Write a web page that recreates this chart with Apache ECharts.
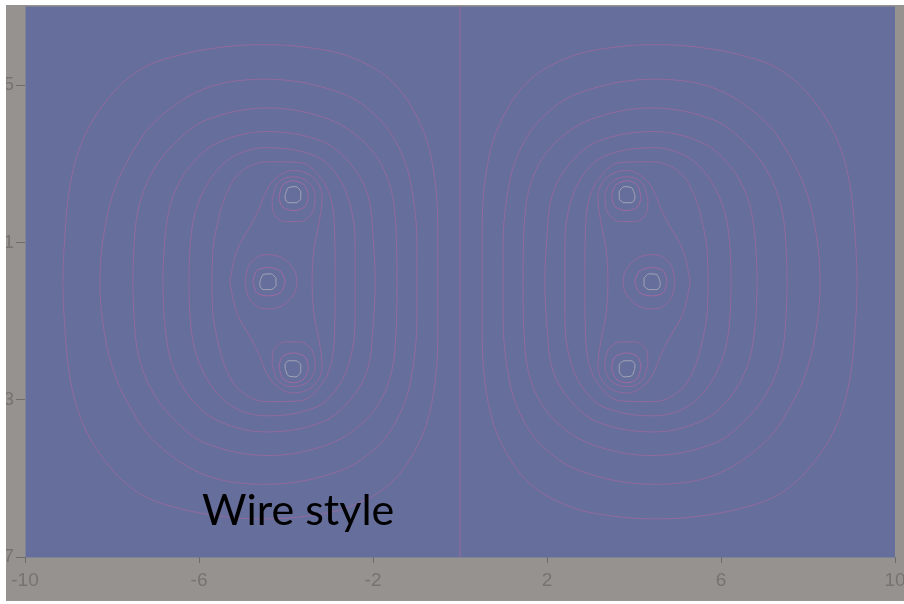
<!DOCTYPE html>
<html>
<head>
<meta charset="utf-8">
<script src="https://cdn.jsdelivr.net/npm/echarts@6/dist/echarts.min.js"></script>
<style>
  html, body { margin: 0; padding: 0; background: #ffffff; width: 904px; height: 604px; overflow: hidden; }
  #frame { position: absolute; left: 6px; top: 5px; width: 898px; height: 596px; background: #96928f; overflow: hidden; }
  #chart { width: 898px; height: 596px; }
</style>
</head>
<body>
<div id="frame"><div id="chart"></div></div>
<script>
// Axis ranges and tick positions
const xRange = [-10, 10];
const yRange = [-7, 7];
const xTicks = [-10, -6, -2, 2, 6, 10];
const yTicks = [-7, -3, 1, 5];

// Nested iso-lines around the left group of sources (x, y in axis units)
const contour1 = [[-9.13,0],[-9.10,0.89],[-8.97,2.42],[-8.67,3.61],[-8.11,4.63],[-7.36,5.39],[-6.44,5.77],[-5.36,5.98],[-4.48,6.03],[-3.45,5.95],[-2.53,5.72],[-1.61,5.14],[-0.99,4.20],[-0.64,3.03],[-0.51,1.32],[-0.51,0],
  [-0.51,-1.32],[-0.64,-3.03],[-0.99,-4.20],[-1.61,-5.14],[-2.53,-5.72],[-3.45,-5.95],[-4.48,-6.03],[-5.36,-5.98],[-6.44,-5.77],[-7.36,-5.39],[-8.11,-4.63],[-8.67,-3.61],[-8.97,-2.42],[-9.10,-0.89],[-9.13,0]];
const contour2 = [[-8.28,0],[-8.23,0.89],[-8.00,2.16],[-7.59,3.18],[-6.97,4.12],[-5.82,4.93],[-4.45,5.15],[-2.76,4.81],[-1.84,4.12],[-1.31,3.18],[-1.08,2.16],[-0.99,0.89],[-0.99,0],
  [-0.99,-0.89],[-1.08,-2.16],[-1.31,-3.18],[-1.84,-4.12],[-2.76,-4.81],[-4.45,-5.15],[-5.82,-4.93],[-6.97,-4.12],[-7.59,-3.18],[-8.00,-2.16],[-8.23,-0.89],[-8.28,0]];
const contour3 = [[-7.52,0],[-7.43,1.65],[-7.13,2.67],[-6.60,3.48],[-5.82,4.12],[-4.40,4.42],[-2.99,4.12],[-2.14,3.48],[-1.68,2.67],[-1.49,1.65],[-1.45,0],
  [-1.49,-1.65],[-1.68,-2.67],[-2.14,-3.48],[-2.99,-4.12],[-4.40,-4.42],[-5.82,-4.12],[-6.60,-3.48],[-7.13,-2.67],[-7.43,-1.65],[-7.52,0]];
const contour4 = [[-6.83,0],[-6.78,1.14],[-6.60,2.16],[-6.14,3.03],[-5.52,3.56],[-4.45,3.82],[-3.15,3.56],[-2.46,2.92],[-2.11,2.16],[-2.00,1.14],[-1.95,0],
  [-2.00,-1.14],[-2.11,-2.16],[-2.46,-2.92],[-3.15,-3.56],[-4.45,-3.82],[-5.52,-3.56],[-6.14,-3.03],[-6.60,-2.16],[-6.78,-1.14],[-6.83,0]];
const contour5 = [[-6.23,0],[-6.21,0.81],[-6.09,1.75],[-5.75,2.59],[-5.22,3.18],[-4.45,3.41],[-3.29,3.18],[-2.76,2.59],[-2.48,1.75],[-2.41,0.81],[-2.41,0],
  [-2.41,-0.81],[-2.48,-1.75],[-2.76,-2.59],[-3.29,-3.18],[-4.45,-3.41],[-5.22,-3.18],[-5.75,-2.59],[-6.09,-1.75],[-6.21,-0.81],[-6.23,0]];
const contour6 = [[-5.70,0],[-5.68,0.81],[-5.58,1.45],[-5.40,2.16],[-5.06,2.77],[-4.45,3.05],[-3.68,3.03],[-3.17,2.59],[-2.94,1.96],[-2.88,1.10],[-2.87,0],
  [-2.88,-1.10],[-2.94,-1.96],[-3.17,-2.59],[-3.68,-3.03],[-4.45,-3.05],[-5.06,-2.77],[-5.40,-2.16],[-5.58,-1.45],[-5.68,-0.81],[-5.70,0]];
const contour7 = [[-5.29,0],[-5.13,0.79],[-4.83,1.40],[-4.64,1.80],[-4.48,2.24],[-4.25,2.62],[-3.84,2.83],[-3.38,2.66],[-3.17,2.16],[-3.24,1.50],[-3.36,0.81],[-3.40,0],
  [-3.36,-0.81],[-3.24,-1.50],[-3.17,-2.16],[-3.38,-2.66],[-3.84,-2.83],[-4.25,-2.62],[-4.48,-2.24],[-4.64,-1.80],[-4.83,-1.40],[-5.13,-0.79],[-5.29,0]];

// Small rings around the three sources (upper, middle, lower)
const ringUpper1 = [[-4.02,2.21],[-3.95,2.39],[-3.77,2.42],[-3.66,2.29],[-3.66,2.11],[-3.77,2.01],[-3.95,2.01],[-4.02,2.11],[-4.02,2.21]];
const ringUpper2 = [[-4.16,2.16],[-4.07,2.47],[-3.84,2.57],[-3.59,2.47],[-3.49,2.19],[-3.56,1.91],[-3.84,1.81],[-4.09,1.91],[-4.16,2.16]];
const ringUpper3 = [[-4.32,2.08],[-4.18,2.52],[-3.84,2.67],[-3.49,2.54],[-3.33,2.16],[-3.40,1.75],[-3.68,1.53],[-4.02,1.53],[-4.28,1.73],[-4.32,2.08]];
const ringMid1 = [[-4.60,0],[-4.53,0.18],[-4.34,0.20],[-4.23,0.08],[-4.23,-0.10],[-4.34,-0.20],[-4.53,-0.20],[-4.60,-0.10],[-4.60,0]];
const ringMid2 = [[-4.76,0],[-4.67,0.28],[-4.41,0.36],[-4.14,0.28],[-4.02,0],[-4.14,-0.28],[-4.41,-0.36],[-4.67,-0.28],[-4.76,0]];
const ringMid3 = [[-4.94,0],[-4.83,0.46],[-4.48,0.69],[-4.09,0.61],[-3.82,0.31],[-3.75,0],[-3.82,-0.31],[-4.09,-0.61],[-4.48,-0.69],[-4.83,-0.46],[-4.94,0]];
const ringLower1 = [[-4.02,-2.21],[-3.95,-2.39],[-3.77,-2.42],[-3.66,-2.29],[-3.66,-2.11],[-3.77,-2.01],[-3.95,-2.01],[-4.02,-2.11],[-4.02,-2.21]];
const ringLower2 = [[-4.16,-2.16],[-4.07,-2.47],[-3.84,-2.57],[-3.59,-2.47],[-3.49,-2.19],[-3.56,-1.91],[-3.84,-1.81],[-4.09,-1.91],[-4.16,-2.16]];
const ringLower3 = [[-4.32,-2.08],[-4.18,-2.52],[-3.84,-2.67],[-3.49,-2.54],[-3.33,-2.16],[-3.40,-1.75],[-3.68,-1.53],[-4.02,-1.53],[-4.28,-1.73],[-4.32,-2.08]];

// Zero line separating the two lobes
const zeroLine = [[0,-7],[0,7]];

const LINE = '#926a9e';
const LINE_INNER = '#a06aa2';
const CORE = '#a4a7b7';

const outerSet = [contour1, contour2, contour3, contour4, contour5, contour6, contour7, ringUpper3, ringMid3, ringLower3];
const innerSet = [ringUpper2, ringMid2, ringLower2];
const coreSet = [ringUpper1, ringMid1, ringLower1];

// the right lobe is the mirror image of the left one
const mirror = pts => pts.map(p => [-p[0], p[1]]);

const series = [];
function addLoop(pts, color, smooth) {
  series.push({
    type: 'line', data: pts, showSymbol: false, symbol: 'none', smooth: smooth,
    silent: true, animation: false, clip: true,
    lineStyle: { color: color, width: 1 }
  });
}
outerSet.forEach(p => { addLoop(p, LINE, 0.35); addLoop(mirror(p), LINE, 0.35); });
innerSet.forEach(p => { addLoop(p, LINE_INNER, 0.3); addLoop(mirror(p), LINE_INNER, 0.3); });
coreSet.forEach(p => { addLoop(p, CORE, 0.2); addLoop(mirror(p), CORE, 0.2); });
addLoop(zeroLine, '#9a6a9e', false);

const axisLabel = { color: '#77736f', fontSize: 19, fontFamily: 'Liberation Sans, Arial, sans-serif' };

const chart = echarts.init(document.getElementById('chart'), null, { renderer: 'canvas' });
chart.setOption({
  animation: false,
  backgroundColor: '#96928f',
  grid: {
    left: 19, right: 9, top: 1.5, bottom: 44, show: true, backgroundColor: '#666e9b', borderWidth: 0,
    containLabel: false, outerBoundsMode: 'none'
  },
  xAxis: {
    type: 'value', min: xRange[0], max: xRange[1],
    axisLine: { show: true, onZero: false, lineStyle: { color: '#7f8397', width: 1 } },
    axisTick: { show: true, length: 6, customValues: xTicks, lineStyle: { color: '#6f6c6a' } },
    axisLabel: Object.assign({ margin: 14, customValues: xTicks }, axisLabel),
    splitLine: { show: false }
  },
  yAxis: {
    type: 'value', min: yRange[0], max: yRange[1],
    axisLine: { show: true, onZero: false, lineStyle: { color: '#7f8397', width: 1 } },
    axisTick: { show: true, length: 9, customValues: yTicks, lineStyle: { color: '#6f6c6a' } },
    axisLabel: Object.assign({ margin: 11, customValues: yTicks }, axisLabel),
    splitLine: { show: false }
  },
  graphic: [{
    type: 'text', left: 196, top: 485, z: 100,
    style: { text: 'Wire style', font: '43px Lato, "Open Sans", sans-serif', fill: '#000000' }
  }],
  series: series
});
</script>
</body>
</html>
